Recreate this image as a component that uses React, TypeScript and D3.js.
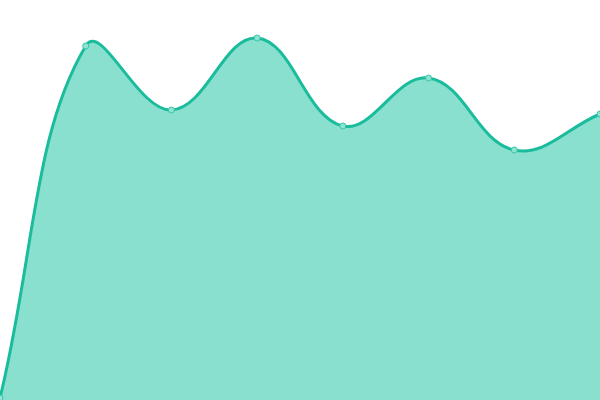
import React from "react";
import * as d3 from "d3";

const labels = ["A", "B", "C", "D", "E", "F", "G", "H"];
const values = [0, 88, 72, 90, 68, 80, 62, 71];

const width = 600;
const height = 400;

// Chart.js-style spline (tension-based bezier with control points clamped to the area)
class TensionSpline {
  _context: any;
  _t: number;
  _line = NaN;
  _pts: [number, number][] = [];
  constructor(context: any, t: number) {
    this._context = context;
    this._t = t;
  }
  areaStart() {
    this._line = 0;
  }
  areaEnd() {
    this._line = NaN;
  }
  lineStart() {
    this._pts = [];
  }
  point(x: number, y: number) {
    this._pts.push([+x, +y]);
  }
  lineEnd() {
    const pts = this._pts;
    const n = pts.length;
    const ctx = this._context;
    if (n) {
      const t = this._t;
      const cp = pts.map((cur, i) => {
        const prev = pts[i - 1] || cur;
        const next = pts[i + 1] || cur;
        const d01 = Math.hypot(cur[0] - prev[0], cur[1] - prev[1]);
        const d12 = Math.hypot(next[0] - cur[0], next[1] - cur[1]);
        let s01 = d01 / (d01 + d12);
        let s12 = d12 / (d01 + d12);
        if (isNaN(s01)) s01 = 0;
        if (isNaN(s12)) s12 = 0;
        const fa = t * s01;
        const fb = t * s12;
        const cx = (v: number) => Math.max(0, Math.min(width, v));
        const cy = (v: number) => Math.max(0, Math.min(height, v));
        return {
          px: cx(cur[0] - fa * (next[0] - prev[0])),
          py: cy(cur[1] - fa * (next[1] - prev[1])),
          nx: cx(cur[0] + fb * (next[0] - prev[0])),
          ny: cy(cur[1] + fb * (next[1] - prev[1])),
        };
      });
      if (this._line) ctx.lineTo(pts[0][0], pts[0][1]);
      else ctx.moveTo(pts[0][0], pts[0][1]);
      for (let i = 1; i < n; i++) {
        ctx.bezierCurveTo(cp[i - 1].nx, cp[i - 1].ny, cp[i].px, cp[i].py, pts[i][0], pts[i][1]);
      }
    }
    if (this._line || (this._line !== 0 && n === 1)) ctx.closePath();
    this._line = 1 - this._line;
  }
}

const curveTension = (t: number) => (context: any) => new TensionSpline(context, t);

const App: React.FC = () => {
  const x = d3.scalePoint<string>().domain(labels).range([0, width]);
  const y = d3.scaleLinear().domain([0, 100]).range([398, -2]);

  const curve = curveTension(0.4) as any;

  const area = d3
    .area<number>()
    .x((_, i) => x(labels[i])!)
    .y0(height)
    .y1((d) => y(d))
    .curve(curve);

  const line = d3
    .line<number>()
    .x((_, i) => x(labels[i])!)
    .y((d) => y(d))
    .curve(curve);

  return (
    <svg
      width={width}
      height={height}
      style={{ position: "absolute", left: 0, top: 0, background: "#fff" }}
    >
      <path d={area(values)!} fill="#89e0cf" />
      <path d={line(values)!} fill="none" stroke="#1abc9c" strokeWidth={3} />
      {values.map((v, i) => (
        <circle
          key={labels[i]}
          cx={x(labels[i])}
          cy={y(v)}
          r={3}
          fill="#8fe3d2"
          stroke="#3ac6a9"
          strokeWidth={1}
        />
      ))}
    </svg>
  );
};

export default App;
